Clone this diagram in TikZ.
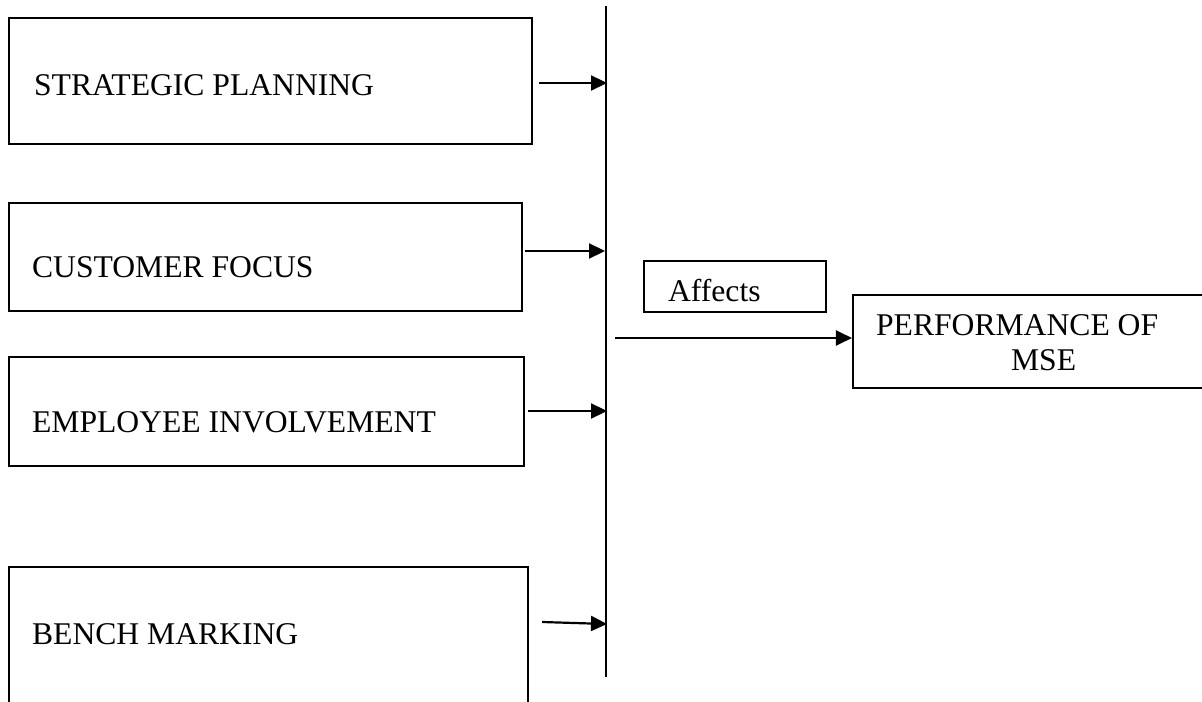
\documentclass[tikz,border=0pt]{standalone}
\usepackage{fontspec}
\setmainfont{Liberation Serif}
\usepackage{tikz}
\usetikzlibrary{arrows.meta}

\begin{document}
\begin{tikzpicture}[x=0.02cm,y=-0.02cm,line width=1.25pt,
  box/.style={draw,inner sep=0pt},
  lbl/.style={anchor=base west,inner sep=0pt,font=\fontsize{18}{20}\selectfont},
  arr/.style={-{Triangle[length=0.32cm,width=0.3cm]}}]
\useasboundingbox (0,0) rectangle (1202,702);
\node[box,minimum width=10.46cm,minimum height=2.52cm] (sp) at (270.5,81) {};
\node[lbl] (sptxt) at (33,96) {STRATEGIC PLANNING};
\node[box,minimum width=10.26cm,minimum height=2.16cm] (cf) at (265.5,257) {};
\node[lbl] (cftxt) at (31,277) {CUSTOMER FOCUS};
\node[box,minimum width=10.30cm,minimum height=2.18cm] (ei) at (266.5,411.5) {};
\node[lbl] (eitxt) at (31,432) {EMPLOYEE INVOLVEMENT};
\node[box,minimum width=10.38cm,minimum height=2.9cm] (bm) at (268.5,639.5) {};
\node[lbl] (bmtxt) at (31,644) {BENCH MARKING};
% the common line
\coordinate (vtop) at (606,6);
\coordinate (vbot) at (606,677);
\draw (vtop) -- (vbot);
\coordinate (in1) at (607,83);
\coordinate (in2) at (605,251);
\coordinate (in3) at (607,411);
\coordinate (in4) at (607,624);
\draw[arr] ([xshift=0.12cm]sp.east |- in1) -- (in1);
\draw[arr] ([xshift=0.04cm]cf.east |- in2) -- (in2);
\draw[arr] ([xshift=0.06cm]ei.east |- in3) -- (in3);
\draw[arr] ([shift={(13,-2)}]bm.east |- in4) -- (in4);
% outcome
\node[box,minimum width=3.64cm,minimum height=1.02cm] (aff) at (735,286.5) {};
\node[lbl] (afftxt) at (667,301) {Affects};
\node[box,minimum width=7.24cm,minimum height=1.86cm] (perf) at (1034,341.5) {};
\node[lbl] (perf1) at (875,335) {PERFORMANCE OF};
\node[lbl] (perf2) at (1010,370) {MSE};
\coordinate (out) at (615,338);
\draw[arr] (out) -- (out -| perf.west);
\end{tikzpicture}
\end{document}
